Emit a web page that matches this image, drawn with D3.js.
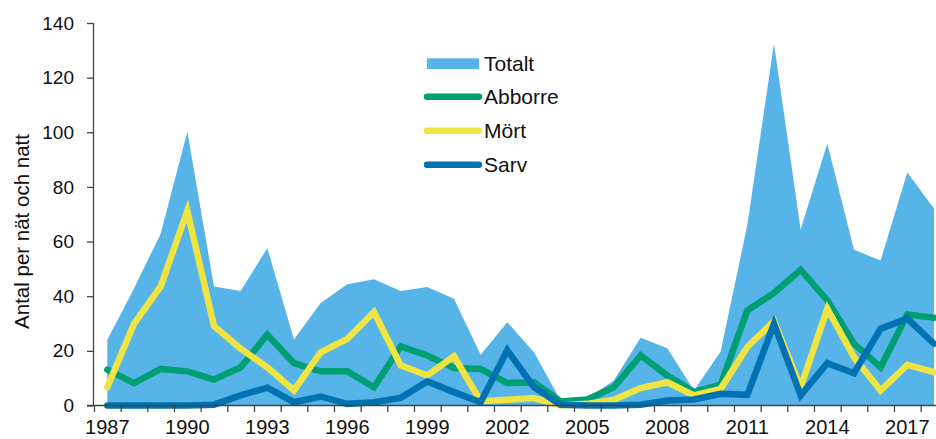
<!DOCTYPE html>
<html>
<head>
<meta charset="utf-8">
<script src="https://cdn.jsdelivr.net/npm/d3@7/dist/d3.min.js"></script>
<style>
  body { margin: 0; background: #fff; }
  text { font-family: "Liberation Sans", Arial, sans-serif; fill: #111; }
</style>
</head>
<body>
<svg id="chart" width="936" height="439"></svg>
<script>
var years = d3.range(1987, 2019);
var yTicks = [0, 20, 40, 60, 80, 100, 120, 140];
var yearLabels = [1987, 1990, 1993, 1996, 1999, 2002, 2005, 2008, 2011, 2014, 2017];

var totalt  = [24.1, 42.8, 62.9, 100.2, 43.6, 41.9, 57.6, 24.2, 37.5, 44.4, 46.2, 41.9, 43.4, 39.1, 18.6, 30.5,
               19.5, 1.8, 2.4, 9.2, 24.8, 21, 5.5, 19.8, 66, 132.5, 64.4, 95.9, 57, 53.1, 85.3, 72.1];
var abborre = [13.1, 8.2, 13.4, 12.5, 9.5, 14, 25.9, 15.5, 12.5, 12.5, 6.7, 21.6, 18.3, 13.7, 13.4, 8.2,
               8.5, 1.5, 2.2, 6.7, 18.3, 11, 4.9, 7.6, 34.8, 41.2, 49.7, 38.5, 22.6, 14, 33.3, 32.1];
var mort    = [6.7, 29.9, 43.6, 71.2, 29.1, 20.8, 14, 5.5, 19.5, 24.4, 34.2, 14.7, 11, 18, 1.6, 2.1,
               2.7, 0, 0.6, 2.1, 6.4, 8.5, 3.7, 6.1, 21.4, 30.9, 6.7, 35.4, 17.7, 5.5, 14.9, 12.2];
var sarv    = [0, 0, 0, 0, 0.3, 3.7, 6.5, 1.2, 3.3, 0.6, 1.2, 2.8, 8.8, 4.9, 1.2, 20.2,
               6.7, 0.3, 0, 0, 0.3, 1.8, 2.2, 4.3, 3.9, 29.9, 3.7, 15.5, 11.8, 28.1, 31.8, 22.6];

var series = [
  {name: 'Abborre', values: abborre, color: '#009e73'},
  {name: 'Mört',    values: mort,    color: '#f0e442'},
  {name: 'Sarv',    values: sarv,    color: '#0072b2'}
];
var areaColor = '#56b4e9';

var svg = d3.select('#chart');

var x = d3.scaleBand().domain(years).range([94, 947.3]).padding(0);
var xEdge = d3.scaleLinear().domain([1987, 2019]).range([94, 947.3]);
var y = d3.scaleLinear().domain([0, 140]).range([405.5, 23]);
var cx = function(d, i){ return x(years[i]) + x.bandwidth() / 2; };

// area Totalt
var area = d3.area()
  .x(cx)
  .y0(y(0))
  .y1(function(d){ return y(d); });
svg.append('path')
  .datum(totalt)
  .attr('fill', areaColor)
  .attr('d', area);

// lines
var line = d3.line()
  .x(cx)
  .y(function(d){ return y(d); });
svg.selectAll('path.serie')
  .data(series)
  .enter()
  .append('path')
  .attr('class', 'serie')
  .attr('fill', 'none')
  .attr('stroke', function(d){ return d.color; })
  .attr('stroke-width', 6.5)
  .attr('stroke-linejoin', 'miter')
  .attr('stroke-linecap', 'round')
  .attr('d', function(d){ return line(d.values); });

// y axis
var yAxis = svg.append('g')
  .attr('transform', 'translate(93.5,0)')
  .call(d3.axisLeft(y).tickValues(yTicks).tickSize(6.5).tickPadding(13));
yAxis.select('.domain').attr('stroke', '#444').attr('stroke-width', 1.3).attr('d', 'M0,' + y(140) + 'V' + y(0));
yAxis.selectAll('.tick line').attr('stroke', '#444').attr('stroke-width', 1.3);
yAxis.selectAll('.tick text').attr('font-size', 19).attr('fill', '#111')
  .style('font-family', '"Liberation Sans", Arial, sans-serif');

// x axis: tick marks at band edges
var xAxis = svg.append('g')
  .attr('transform', 'translate(0,' + y(0) + ')')
  .call(d3.axisBottom(xEdge).tickValues(d3.range(1987, 2020)).tickSize(6.5).tickFormat(''));
xAxis.select('.domain').attr('stroke', '#444').attr('stroke-width', 1.3).attr('d', 'M87,0H947.3');
xAxis.selectAll('.tick line').attr('stroke', '#444').attr('stroke-width', 1.3);

// x labels at band centers
var xLab = svg.append('g')
  .attr('transform', 'translate(0,' + y(0) + ')')
  .call(d3.axisBottom(x).tickValues(yearLabels).tickSize(0).tickPadding(14.5));
xLab.select('.domain').remove();
xLab.selectAll('.tick text').attr('font-size', 20).attr('fill', '#111')
  .style('font-family', '"Liberation Sans", Arial, sans-serif');

// y title
svg.append('text')
  .attr('transform', 'translate(29,231.5) rotate(-90)')
  .attr('text-anchor', 'middle')
  .attr('font-size', 20.5)
  .text('Antal per nät och natt');

// legend
var legend = svg.append('g').attr('transform', 'translate(427,0)');
legend.append('rect')
  .attr('x', 0).attr('y', 58.3).attr('width', 52).attr('height', 10.7)
  .attr('fill', areaColor);
legend.append('text').attr('x', 57).attr('y', 70.7).attr('font-size', 21).text('Totalt');
legend.selectAll('g.item')
  .data(series)
  .enter()
  .append('g')
  .attr('class', 'item')
  .attr('transform', function(d, i){ return 'translate(0,' + (96.7 + i * 34) + ')'; })
  .each(function(d){
    var g = d3.select(this);
    g.append('line')
      .attr('x1', 0).attr('x2', 52).attr('y1', 0).attr('y2', 0)
      .attr('stroke', d.color).attr('stroke-width', 6.5).attr('stroke-linecap', 'round');
    g.append('text').attr('x', 57).attr('y', 7).attr('font-size', 21).text(d.name);
  });
</script>
</body>
</html>
